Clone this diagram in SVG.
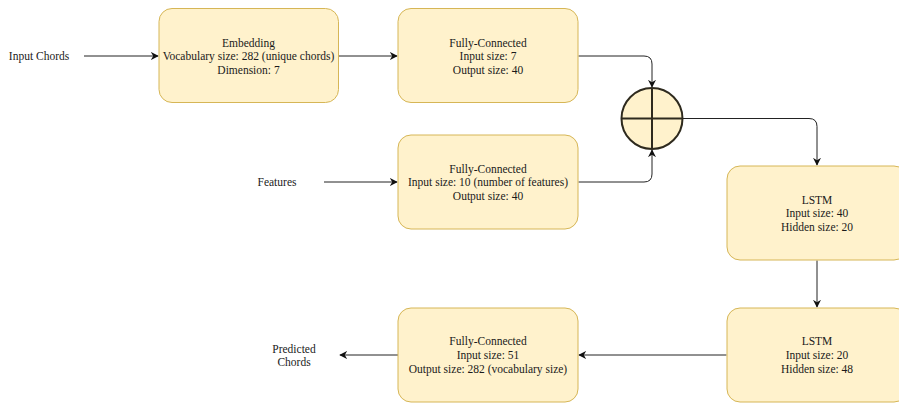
<svg xmlns="http://www.w3.org/2000/svg" width="899" height="405" viewBox="0 0 899 405">
<defs>
<style>
.box{fill:#fff2cc;stroke:#d6b656;stroke-width:1}
.t{font-family:"Liberation Serif","Times New Roman",serif;font-size:11.5px;fill:#1a1a1a;text-anchor:middle}
.e{fill:none;stroke:#222;stroke-width:1}
</style>
<marker id="ah" viewBox="0 0 10 10" refX="9" refY="5" markerWidth="8" markerHeight="8" markerUnits="userSpaceOnUse" orient="auto">
<path d="M0,0 L10,5 L0,10 L3,5 Z" fill="#111"/>
</marker>
</defs>
<rect width="899" height="405" fill="#fff"/>
<g id="connectors">
<path class="e" d="M84,56 H158" marker-end="url(#ah)"/>
<path class="e" d="M338.5,56 H397" marker-end="url(#ah)"/>
<path class="e" d="M578.5,56 H644 Q652,56 652,64 V87" marker-end="url(#ah)"/>
<path class="e" d="M324,182 H397" marker-end="url(#ah)"/>
<path class="e" d="M578.5,182 H644 Q652,182 652,174 V150" marker-end="url(#ah)"/>
<path class="e" d="M682.5,118.5 H809 Q817,118.5 817,126.5 V165" marker-end="url(#ah)"/>
<path class="e" d="M817,260.5 V307" marker-end="url(#ah)"/>
<path class="e" d="M726.5,355 H579" marker-end="url(#ah)"/>
<path class="e" d="M398,355 H340" marker-end="url(#ah)"/>
</g>
<g id="label-input-chords"><text class="t" x="39" y="60">Input Chords</text></g>
<g id="label-features"><text class="t" x="277" y="186">Features</text></g>
<g id="label-predicted"><text class="t" x="294" y="353">Predicted</text><text class="t" x="294" y="366">Chords</text></g>
<g id="embedding">
<rect class="box" x="159" y="8.5" width="179.5" height="94" rx="13"/>
<text class="t" x="248.5" y="47">Embedding</text>
<text class="t" x="248.5" y="60">Vocabulary size: 282 (unique chords)</text>
<text class="t" x="248.5" y="74">Dimension: 7</text>
</g>
<g id="fc1">
<rect class="box" x="398" y="8.5" width="180" height="94" rx="13"/>
<text class="t" x="488" y="47">Fully-Connected</text>
<text class="t" x="488" y="60">Input size: 7</text>
<text class="t" x="488" y="74">Output size: 40</text>
</g>
<g id="fc2">
<rect class="box" x="398" y="135" width="180" height="94" rx="13"/>
<text class="t" x="488" y="173">Fully-Connected</text>
<text class="t" x="488" y="186">Input size: 10 (number of features)</text>
<text class="t" x="488" y="200">Output size: 40</text>
</g>
<g id="sum">
<circle cx="652" cy="118.5" r="30.5" fill="#fff2cc" stroke="#2e2a1e" stroke-width="2"/>
<path d="M652,88 V149 M621.5,118.5 H682.5" stroke="#2e2a1e" stroke-width="2" fill="none"/>
</g>
<g id="lstm1">
<rect class="box" x="727" y="166" width="180" height="94" rx="13"/>
<text class="t" x="817" y="204">LSTM</text>
<text class="t" x="817" y="217">Input size: 40</text>
<text class="t" x="817" y="231">Hidden size: 20</text>
</g>
<g id="lstm2">
<rect class="box" x="727" y="308" width="180" height="94" rx="13"/>
<text class="t" x="817" y="345">LSTM</text>
<text class="t" x="817" y="359">Input size: 20</text>
<text class="t" x="817" y="373">Hidden size: 48</text>
</g>
<g id="fc3">
<rect class="box" x="398" y="308" width="180" height="94" rx="13"/>
<text class="t" x="488" y="345">Fully-Connected</text>
<text class="t" x="488" y="359">Input size: 51</text>
<text class="t" x="488" y="373">Output size: 282 (vocabulary size)</text>
</g>
</svg>
